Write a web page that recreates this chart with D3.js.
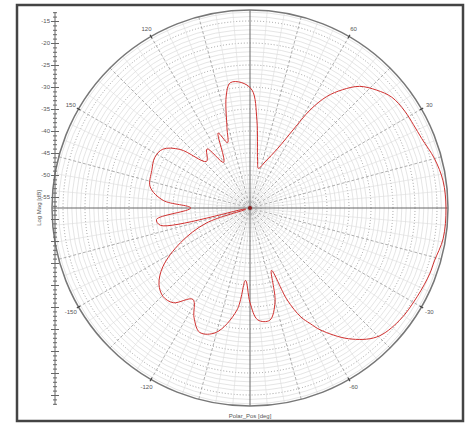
<!DOCTYPE html>
<html lang="en">
<head>
<meta charset="UTF-8">
<title>Polar pattern</title>
<script src="https://d3js.org/d3.v7.min.js"></script>
<style>
  body { margin: 0; background: #fff; }
  text { font-family: "Liberation Sans", Arial, sans-serif; fill: #555; }
  .axis path, .axis line { stroke: #666; }
  .axis text { font-size: 6px; fill: #555; }
</style>
</head>
<body>
<svg width="470" height="423"></svg>
<script>
// measured pattern, angle in deg (ccw from 0), magnitude in dB
const angleDeg = [0, 8, 15, 22, 27, 32, 38, 43, 48, 52, 55.5, 58.5, 61, 65, 72, 78, 81, 85.5, 89, 94, 99, 102, 106, 109,
  113, 120, 126, 133, 140, 146, 152, 159, 168, 175, 180, 187, 191, 194, 199, 206.6, 214, 220, 225.6, 231, 238, 243, 248,
  254.8, 262.7, 266.5, 270, 274, 280, 285, 289, 292, 295, 297.5, 300, 307, 314.5, 323, 332, 340, 344, 351];
const magDb = [-12.95, -13.2, -14.1, -15.4, -15.8, -16.0, -16.6, -18.2, -20.3, -23.4, -26.8, -31.4, -37.0, -42.5, -46.5, -48.3, -46.5, -37.5, -30.7, -28.9, -28.7, -31.5, -38.5, -41.8,
  -39.0, -45.5, -40.9, -43.0, -36.8, -33.6, -33.0, -33.6, -34.3, -37.7, -44.0, -36.1, -36.8, -56.5, -47.0, -39.8, -33.6, -30.5, -29.3, -29.8, -33.0, -29.5, -27.0,
  -28.2, -34.1, -41.0, -36.0, -32.0, -31.6, -35.5, -42.5, -35.0, -30.2, -27.9, -25.5, -20.3, -16.4, -15.0, -14.5, -14.0, -13.9, -13.05];

const angleLabels = [30, 60, 120, 150, -150, -120, -60, -30];
const dbTicks = d3.range(-15, -101, -5);
const dbLabelMin = -55;

const cx = 250, cy = 208, R = 198;
const rMin = -57.5, rMax = -12.5;

const svg = d3.select('svg');

// frame
svg.append('rect')
  .attr('x', 17).attr('y', 5).attr('width', 446).attr('height', 416)
  .attr('fill', 'none').attr('stroke', '#444').attr('stroke-width', 2.5);

const r = d3.scaleLinear().domain([rMin, rMax]).range([0, R]);
const g = svg.append('g').attr('transform', `translate(${cx},${cy})`);

// concentric grid every 1 dB, dotted every 5 dB
const rings = d3.range(-57, rMax, 1);
g.selectAll('.ring')
  .data(rings)
  .enter().append('circle')
  .attr('r', d => r(d))
  .attr('fill', 'none')
  .attr('stroke', d => d % 5 === 0 ? '#888' : '#d4d4d4')
  .attr('stroke-width', d => d % 5 === 0 ? 0.8 : 0.6)
  .attr('stroke-dasharray', d => d % 5 === 0 ? '1,2' : null);

// spokes
const rad = a => a * Math.PI / 180;
const spokes = d3.range(0, 360, 5).filter(a => a % 90 !== 0);
g.selectAll('.spoke')
  .data(spokes)
  .enter().append('line')
  .attr('x1', 0).attr('y1', 0)
  .attr('x2', a => R * Math.cos(rad(a)))
  .attr('y2', a => -R * Math.sin(rad(a)))
  .attr('stroke', a => a % 15 === 0 ? '#999' : '#dcdcdc')
  .attr('stroke-width', a => a % 15 === 0 ? 0.8 : 0.6)
  .attr('stroke-dasharray', a => a % 15 === 0 ? '3,2' : null);

// main axes
g.selectAll('.main')
  .data([0, 90])
  .enter().append('line')
  .attr('x1', a => -R * Math.cos(rad(a))).attr('y1', a => R * Math.sin(rad(a)))
  .attr('x2', a => R * Math.cos(rad(a))).attr('y2', a => -R * Math.sin(rad(a)))
  .attr('stroke', '#666').attr('stroke-width', 1);

// outer circle
g.append('circle').attr('r', R).attr('fill', 'none').attr('stroke', '#777').attr('stroke-width', 1.5);

// angle ticks and labels
g.selectAll('.atick')
  .data(angleLabels)
  .enter().append('line')
  .attr('x1', a => (R - 2) * Math.cos(rad(a))).attr('y1', a => -(R - 2) * Math.sin(rad(a)))
  .attr('x2', a => (R + 2) * Math.cos(rad(a))).attr('y2', a => -(R + 2) * Math.sin(rad(a)))
  .attr('stroke', '#444').attr('stroke-width', 1.2);

g.selectAll('.alabel')
  .data(angleLabels)
  .enter().append('text')
  .attr('x', a => (R + 9) * Math.cos(rad(a)))
  .attr('y', a => -(R + 9) * Math.sin(rad(a)) + 2)
  .attr('text-anchor', 'middle')
  .style('font-size', '6px')
  .text(d => d);

// pattern
const pts = angleDeg.map((a, i) => ({ a: a, v: magDb[i] }));
const line = d3.lineRadial()
  .angle(d => rad(90 - d.a))
  .radius(d => r(d.v))
  .curve(d3.curveCatmullRomClosed.alpha(0.5));

g.append('path')
  .datum(pts)
  .attr('d', line)
  .attr('fill', 'none')
  .attr('stroke', '#d0302f')
  .attr('stroke-width', 1);

g.append('circle').attr('r', 2).attr('fill', '#8a1c1c');

// left magnitude axis
const y = d3.scaleLinear().domain([rMax, -102.5]).range([10, 406]);
const ax = 55;

svg.append('g')
  .attr('class', 'axis')
  .attr('transform', `translate(${ax},0)`)
  .call(d3.axisLeft(y).tickValues(d3.range(-13, -103, -1)).tickSize(2).tickFormat(''))
  .call(s => s.select('.domain').remove());
svg.append('g')
  .attr('class', 'axis')
  .attr('transform', `translate(${ax},0)`)
  .call(d3.axisRight(y).tickValues(d3.range(-13, -103, -1)).tickSize(2).tickFormat(''))
  .call(s => s.select('.domain').remove());
svg.append('g')
  .attr('class', 'axis')
  .attr('transform', `translate(${ax},0)`)
  .call(d3.axisRight(y).tickValues(dbTicks).tickSize(4).tickFormat(''))
  .call(s => s.select('.domain').remove());
svg.append('g')
  .attr('class', 'axis')
  .attr('transform', `translate(${ax},0)`)
  .call(d3.axisLeft(y).tickValues(dbTicks).tickSize(4).tickPadding(1)
    .tickFormat(d => d >= dbLabelMin ? d : ''))
  .call(s => s.select('.domain').attr('d', `M0,12V405`));

svg.append('text')
  .attr('transform', `translate(41,${cy}) rotate(-90)`)
  .attr('text-anchor', 'middle')
  .style('font-size', '6px')
  .text('Log Mag [dB]');

svg.append('text')
  .attr('x', cx).attr('y', 418)
  .attr('text-anchor', 'middle')
  .style('font-size', '6px')
  .text('Polar_Pos [deg]');
</script>
</body>
</html>
